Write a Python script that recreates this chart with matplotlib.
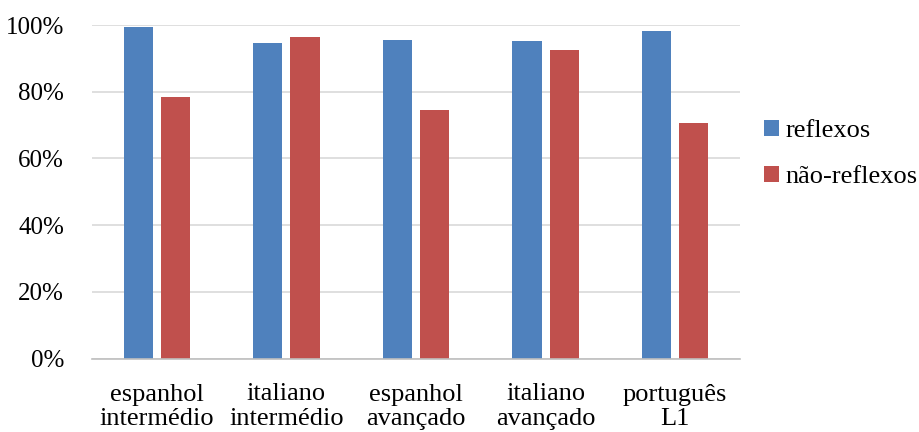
import matplotlib
matplotlib.use("Agg")
import matplotlib.pyplot as plt
import numpy as np
from matplotlib.ticker import PercentFormatter

categories = ["espanhol\nintermédio", "italiano\nintermédio", "espanhol\navançado",
              "italiano\navançado", "português\nL1"]
series_names = ["reflexos", "não-reflexos"]
reflexos = [99.5, 94.6, 95.4, 95.1, 98.1]
nao_reflexos = [78.4, 96.4, 74.6, 92.5, 70.5]
yticks = [0, 20, 40, 60, 80, 100]

plt.rcParams['font.family'] = ['Liberation Serif', 'DejaVu Serif']
FS = 19

fig = plt.figure(figsize=(9.2, 4.32), dpi=100)
ax = fig.add_axes([92/920, 1-358.5/432, (740-92)/920, (358.5-25)/432])

x = np.arange(len(categories))
w = 0.225
gap = 0.062
off = (w + gap) / 2
ax.bar(x - off, reflexos, w, color="#4F81BD", label=series_names[0], zorder=3)
ax.bar(x + off, nao_reflexos, w, color="#C0504D", label=series_names[1], zorder=3)

ax.set_xlim(-0.5, len(categories) - 0.5)
ax.set_ylim(0, 100)
ax.set_yticks(yticks)
ax.yaxis.set_major_formatter(PercentFormatter(decimals=0))
ax.set_xticks(x)
ax.set_xticklabels(categories, fontsize=FS, linespacing=1.15)
ax.tick_params(axis='y', labelsize=18, length=0, pad=20)
ax.tick_params(axis='x', length=0, pad=18)
ax.grid(axis='y', color="#D9D9D9", linewidth=1.2, zorder=0)
for s in ["top", "right", "left"]:
    ax.spines[s].set_visible(False)
ax.spines["bottom"].set_color("#BFBFBF")
ax.spines["bottom"].set_linewidth(1.2)
ax.spines["bottom"].set_zorder(4)

fig.legend(loc="center left", bbox_to_anchor=(764/920, 1-154/432), frameon=False,
           fontsize=FS, handlelength=0.55, handleheight=0.55, handletextpad=0.25,
           labelspacing=0.9, borderaxespad=0, borderpad=0)

fig.savefig("out.png", dpi=100)
